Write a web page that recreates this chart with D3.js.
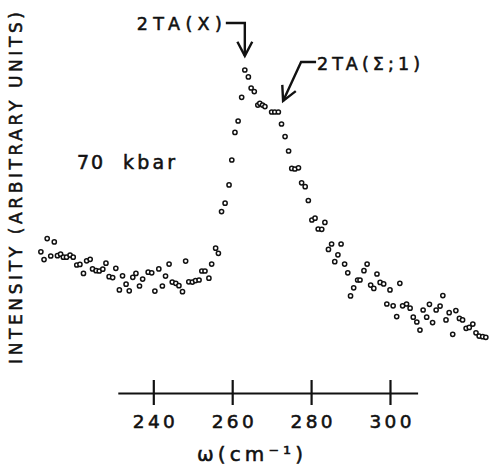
<!DOCTYPE html>
<meta charset="utf-8">
<style>
    body { margin: 0; background: white; }
    text { font-family: "DejaVu Sans", sans-serif; fill: #111; stroke: #111; stroke-width: 0.55px; }
</style>
<body>
<div id="container"></div>
<script src="https://d3js.org/d3.v7.min.js"></script>
<script>
// Raman spectrum at 70 kbar (omega in cm^-1, intensity in arbitrary units)
var omega = [211.5, 212.3, 213.1, 214.9, 214.0, 215.7, 216.5, 217.2, 218.0, 218.9,
    219.7, 220.6, 221.4, 222.3, 223.1, 224.0, 224.6, 225.5, 226.3, 227.2,
    228.0, 228.8, 229.7, 230.5, 231.4, 232.2, 233.1, 233.9, 234.8, 235.6,
    236.5, 237.3, 238.7, 239.6, 240.4, 241.4, 242.3, 243.1, 244.0, 244.8,
    245.7, 246.5, 247.4, 248.2, 249.0, 249.9, 250.7, 251.6, 252.3, 253.1,
    254.1, 254.8, 255.8, 256.5, 257.3, 258.2, 259.2, 259.9, 260.7, 261.5,
    262.4, 263.2, 264.1, 264.8, 265.6, 266.5, 267.0, 267.7, 268.3, 270.0,
    270.8, 271.7, 272.5, 273.4, 274.3, 275.1, 275.9, 276.8, 277.6, 278.5,
    279.3, 280.2, 281.0, 281.8, 282.7, 283.5, 284.4, 285.2, 286.0, 286.8,
    287.6, 288.5, 289.3, 290.0, 290.8, 291.8, 292.4, 293.4, 294.2, 295.1,
    295.9, 296.7, 297.5, 298.4, 299.2, 300.0, 300.8, 301.7, 302.5, 303.2,
    304.2, 305.1, 305.9, 306.8, 307.6, 308.4, 309.3, 310.0, 310.8, 311.7,
    312.7, 313.4, 314.2, 315.0, 315.9, 316.7, 317.6, 318.4, 319.3, 320.1,
    321.0, 321.8, 322.6, 323.5, 324.3];
var intensity = [29.4, 26.8, 33.8, 32.7, 28.0, 28.1, 28.6, 27.6, 27.6, 28.3,
    27.6, 25.0, 25.2, 22.2, 26.4, 26.9, 23.7, 23.1, 23.0, 23.6,
    25.6, 21.1, 20.8, 23.9, 16.7, 21.4, 18.6, 16.4, 20.9, 22.2,
    18.0, 20.3, 22.6, 22.4, 16.3, 23.7, 18.0, 21.3, 25.3, 19.3,
    18.9, 18.1, 16.1, 26.3, 19.4, 19.3, 19.8, 20.0, 23.0, 23.0,
    20.6, 25.3, 30.6, 28.9, 42.8, 45.6, 51.7, 60.0, 69.2, 73.0,
    80.9, 90.0, 87.7, 84.0, 82.8, 78.3, 78.9, 78.3, 77.8, 76.0,
    76.0, 76.0, 72.0, 67.8, 63.0, 57.2, 57.0, 57.4, 52.4, 51.1,
    46.5, 40.0, 40.6, 37.0, 36.9, 39.2, 30.2, 32.0, 26.1, 28.4,
    32.0, 25.3, 22.4, 14.7, 17.4, 20.0, 20.0, 23.1, 25.3, 18.3,
    17.2, 22.0, 19.2, 18.7, 12.0, 16.7, 11.4, 7.8, 18.9, 11.4,
    12.0, 10.6, 7.6, 6.0, 3.3, 10.0, 7.6, 11.9, 5.8, 10.0,
    11.3, 14.8, 6.7, 9.1, 1.9, 9.8, 7.2, 6.7, 3.9, 4.2,
    5.3, 2.4, 1.3, 1.1, 0.9];
var tickValues = [240, 260, 280, 300];
var axisDomain = [231, 307];

// peak annotations: arrow tip in data units
var peakLabels = ["2TA(X)", "2TA(Σ;1)"];
var peakOmega = [263.2, 272.9];
var peakIntensity = [94.7, 79.7];

var width = 489, height = 470;
var svg = d3.select('#container')
    .append('svg')
    .attr('width', width)
    .attr('height', height);

var x = d3.scaleLinear().domain(axisDomain).range([117.8, 417.6]);
var y = d3.scaleLinear().domain([0, 100]).range([340, 40]);

// x axis, ticks crossing the line
var axis = svg.append('g')
    .attr('transform', 'translate(0,393)')
    .call(d3.axisBottom(x).tickValues(tickValues).tickSize(0).tickPadding(0).tickSizeOuter(0));
axis.select('.domain').attr('stroke', '#111').attr('stroke-width', 2.2);
axis.selectAll('.tick line')
    .attr('y1', -13).attr('y2', 12)
    .attr('stroke', '#111').attr('stroke-width', 2.2);
axis.selectAll('.tick text')
    .attr('y', 35).attr('dy', null)
    .attr('font-size', 18.5)
    .attr('font-family', '"DejaVu Sans", sans-serif')
    .attr('textLength', 42)
    .attr('lengthAdjust', 'spacing');

svg.append('text')
    .attr('x', 250).attr('y', 461)
    .attr('text-anchor', 'middle')
    .attr('font-size', 20)
    .attr('textLength', 106)
    .attr('lengthAdjust', 'spacing')
    .text('ω(cm⁻¹)');

svg.append('text')
    .attr('transform', 'translate(22,188) rotate(-90)')
    .attr('text-anchor', 'middle')
    .attr('font-size', 17)
    .attr('textLength', 352)
    .attr('lengthAdjust', 'spacing')
    .text('INTENSITY (ARBITRARY UNITS)');

svg.append('text')
    .attr('x', 77).attr('y', 169)
    .attr('font-size', 19)
    .attr('textLength', 26)
    .attr('lengthAdjust', 'spacing')
    .text('70');
svg.append('text')
    .attr('x', 123).attr('y', 169)
    .attr('font-size', 19)
    .attr('textLength', 52)
    .attr('lengthAdjust', 'spacing')
    .text('kbar');

// data points
svg.append('g')
    .selectAll('circle')
    .data(omega)
    .join('circle')
    .attr('cx', d => x(d))
    .attr('cy', (d, i) => y(intensity[i]))
    .attr('r', 2.1)
    .attr('fill', 'white')
    .attr('stroke', '#111')
    .attr('stroke-width', 1.5);

function arrowHead(g, tx, ty, fx, fy) {
    var a = Math.atan2(ty - fy, tx - fx), len = 16, sp = Math.PI / 6.5;
    g.append('path')
        .attr('d', 'M' + (tx - len * Math.cos(a - sp)) + ',' + (ty - len * Math.sin(a - sp)) +
            'L' + tx + ',' + ty +
            'L' + (tx - len * Math.cos(a + sp)) + ',' + (ty - len * Math.sin(a + sp)));
}

var ann = svg.append('g')
    .attr('fill', 'none')
    .attr('stroke', '#111')
    .attr('stroke-width', 2.4);

// 2TA(X): label to the left, elbow down onto the peak
var tx0 = x(peakOmega[0]), ty0 = y(peakIntensity[0]);
ann.append('path').attr('d', 'M' + (tx0 - 19) + ',23H' + tx0 + 'V' + ty0);
arrowHead(ann, tx0, ty0, tx0, 23);
svg.append('text')
    .attr('x', tx0 - 108).attr('y', 29.5)
    .attr('font-size', 17.5)
    .attr('textLength', 85)
    .attr('lengthAdjust', 'spacing')
    .text(peakLabels[0]);

// 2TA(Σ;1): label to the right, slanted arrow down-left
var tx1 = x(peakOmega[1]), ty1 = y(peakIntensity[1]);
ann.append('path').attr('d', 'M' + (tx1 + 33) + ',62H' + (tx1 + 18) + 'L' + tx1 + ',' + ty1);
arrowHead(ann, tx1, ty1, tx1 + 18, 62);
svg.append('text')
    .attr('x', tx1 + 34).attr('y', 70)
    .attr('font-size', 17.5)
    .attr('textLength', 103)
    .attr('lengthAdjust', 'spacing')
    .text(peakLabels[1]);
</script>
</body>
